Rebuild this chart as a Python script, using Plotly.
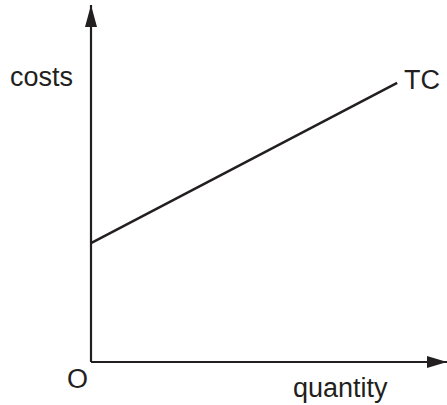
import plotly.graph_objects as go

# Data
quantity = [0, 8.6]
tc = [3.33, 7.82]
x_max = 10
y_max = 10
labels = {"y": "costs", "x": "quantity", "origin": "O", "series": "TC"}

ink = "#231f20"
W, H = 447, 405
font = dict(family="Liberation Sans, Arial, sans-serif", size=27, color=ink)

fig = go.Figure()
fig.add_trace(go.Scatter(x=quantity, y=tc, mode="lines",
                         line=dict(color=ink, width=2.5), hoverinfo="skip",
                         showlegend=False))

# axis lines
fig.add_shape(type="line", x0=0, y0=0, x1=x_max, y1=0, xref="x", yref="y",
              line=dict(color=ink, width=2.2))
fig.add_shape(type="line", x0=0, y0=0, x1=0, y1=y_max, xref="x", yref="y",
              line=dict(color=ink, width=2.2))
# arrow heads (pixel-sized, anchored at axis ends)
fig.add_shape(type="path", xref="x", yref="y", xsizemode="pixel", ysizemode="pixel",
              xanchor=0, yanchor=y_max, path="M0,0 L-6,-22 L6,-22 Z",
              fillcolor=ink, line=dict(color=ink, width=0))
fig.add_shape(type="path", xref="x", yref="y", xsizemode="pixel", ysizemode="pixel",
              xanchor=x_max, yanchor=0, path="M0,0 L-20,6 L-20,-6 Z",
              fillcolor=ink, line=dict(color=ink, width=0))

def ann(text, px, py):
    fig.add_annotation(text=text, xref="paper", yref="paper",
                       x=px / W, y=1 - py / H, xanchor="left", yanchor="middle",
                       showarrow=False, font=font)

ann(labels["y"], 8, 76.5)
ann(labels["series"], 401.5, 80.5)
ann(labels["origin"], 65, 378.5)
ann(labels["x"], 291, 387.5)

kx = 356 / x_max
ky = 357 / y_max
fig.update_layout(
    width=W, height=H,
    margin=dict(l=0, r=0, t=0, b=0),
    paper_bgcolor="white", plot_bgcolor="white",
    xaxis=dict(range=[-91 / kx, x_max], visible=False, fixedrange=True),
    yaxis=dict(range=[-(H - 362) / ky, y_max + 5 / ky], visible=False, fixedrange=True),
)
fig.write_html("out.html", config={"displayModeBar": False},
               post_script="document.body.style.margin='0';document.body.style.overflow='hidden';")
